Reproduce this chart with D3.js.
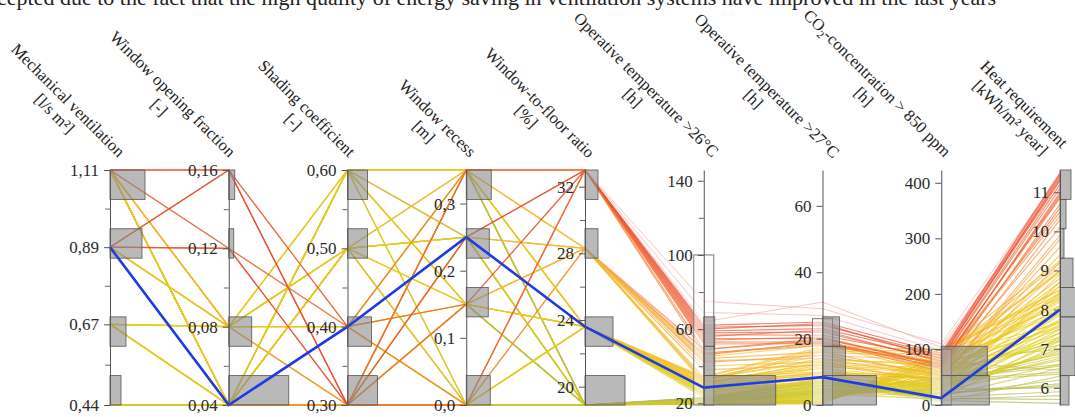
<!DOCTYPE html>
<html><head><meta charset="utf-8">
<script src="https://cdn.jsdelivr.net/npm/d3@7"></script>
<style>
body{margin:0;background:#fff;overflow:hidden;}
svg{display:block;}
svg text{font-family:"Liberation Serif","DejaVu Serif",serif !important;}
</style>
</head><body>
<svg id="chart" width="1075" height="417" font-family="Liberation Serif, DejaVu Serif, serif"></svg>
<script>
// ---------- axes ----------
const dims = ["mv","wof","sc","wr","wfr","op26","op27","co2","heat"];
const axisTitles = ["Mechanical ventilation","Window opening fraction","Shading coefficient","Window recess","Window-to-floor ratio","Operative temperature >26°C","Operative temperature >27°C","CO2-concentration > 850 ppm","Heat requirement"];
const axisUnits = ["[l/s m²]","[-]","[-]","[m]","[%]","[h]","[h]","[h]","[kWh/m² year]"];
const domainMv = [0.44, 1.11], domainWof = [0.04, 0.16], domainSc = [0.30, 0.60], domainWr = [0, 0.35],
      domainWfr = [18.9, 33.0], domainOp26 = [19.1, 145.8], domainOp27 = [0, 70.8], domainCo2 = [0, 423], domainHeat = [5.56, 11.57];
const ticksMv = [0.44,0.67,0.89,1.11], minorMv = [0.555,0.78,1.0];
const ticksWof = [0.04,0.08,0.12,0.16], minorWof = [0.06,0.10,0.14];
const ticksSc = [0.30,0.40,0.50,0.60], minorSc = [0.35,0.45,0.55];
const ticksWr = [0,0.1,0.2,0.3], minorWr = [];
const ticksWfr = [20,24,28,32], minorWfr = [22,26,30];
const ticksOp26 = [20,60,100,140], minorOp26 = [40,80,120];
const ticksOp27 = [0,20,40,60], minorOp27 = [];
const ticksCo2 = [0,100,200,300,400], minorCo2 = [];
const ticksHeat = [6,7,8,9,10,11], minorHeat = [];
// brushed (filter) ranges
const brushDims = ["op26","op27","co2"];
const brushRanges = [[19.1,100],[0,26],[0,100]];

// ---------- designs (filtered), drawing order; last one is the highlighted design ----------
const mechVent = [
 0.44,1.11,0.89,0.67,0.44,1.11,0.89,0.67,0.44,1.11, 0.89,0.67,0.44,1.11,0.89,0.67,0.44,1.11,0.89,0.67,
 0.44,1.11,0.89,0.67,0.44,1.11,0.89,0.67,0.44,1.11, 0.89,0.67,0.44,1.11,0.89,0.67,1.11,0.89,1.11,0.89,
 1.11,1.11,0.89,1.11,0.89,1.11,0.89,1.11,0.67,1.11,0.89,0.67,1.11,
 1.11,1.11,0.89,1.11,0.67,1.11,0.89,1.11,0.44,1.11, 0.89,0.67,1.11,0.89,1.11,0.89,0.67,1.11,0.44,0.89,
 1.11,0.67,0.89,1.11,0.89,1.11,0.67,
 1.11,1.11,1.11,0.89,0.89,0.89,1.11,1.11,0.89,0.89,0.89,0.89,0.89,
 0.89];
const windowOpening = [
 0.04,0.08,0.04,0.04,0.04,0.04,0.08,0.08,0.04,0.04, 0.04,0.04,0.04,0.08,0.04,0.04,0.04,0.04,0.08,0.04,
 0.04,0.04,0.04,0.08,0.04,0.08,0.04,0.04,0.04,0.04, 0.08,0.04,0.04,0.04,0.04,0.08,0.04,0.04,0.04,0.04,
 0.08,0.04,0.08,0.04,0.04,0.08,0.04,0.04,0.04,0.04,0.08,0.08,0.04,
 0.08,0.04,0.08,0.04,0.08,0.08,0.04,0.08,0.04,0.04, 0.04,0.04,0.08,0.08,0.04,0.04,0.08,0.04,0.04,0.04,
 0.04,0.04,0.04,0.04,0.08,0.04,0.04,
 0.16,0.16,0.16,0.16,0.16,0.16,0.12,0.12,0.12,0.12,0.12,0.04,0.04,
 0.04];
const shading = [
 0.60,0.50,0.40,0.60,0.50,0.30,0.60,0.40,0.40,0.60, 0.50,0.30,0.60,0.40,0.50,0.60,0.30,0.50,0.30,0.50,
 0.50,0.60,0.40,0.60,0.40,0.50,0.60,0.40,0.60,0.40, 0.50,0.30,0.30,0.30,0.60,0.50,0.30,0.40,0.50,0.40,
 0.30,0.30,0.30,0.30,0.40,0.30,0.30,0.40,0.30,0.50,0.30,0.40,0.30,
 0.60,0.50,0.60,0.60,0.50,0.40,0.50,0.40,0.60,0.30, 0.60,0.50,0.50,0.40,0.60,0.30,0.60,0.50,0.40,0.50,
 0.30,0.60,0.40,0.40,0.50,0.60,0.30,
 0.30,0.40,0.30,0.30,0.40,0.30,0.40,0.30,0.30,0.40,0.30,0.30,0.30,
 0.40];
const recess = [
 0.35,0.15,0,0.25,0.15,0.35,0.25,0,0.25,0, 0.35,0.15,0,0.35,0.25,0.15,0.35,0.25,0.15,0,
 0.25,0.15,0.35,0.35,0.15,0,0.15,0.25,0.25,0.25, 0,0.35,0,0.15,0.35,0,0,0.25,0.35,0.35,
 0.35,0.25,0.15,0,0.15,0.25,0.35,0,0.15,0.25,0,0.35,0.15,
 0.35,0.15,0,0.25,0.35,0.15,0,0.25,0.15,0.35, 0.35,0.25,0,0.15,0,0.25,0.15,0.35,0,0.15,
 0.25,0.35,0,0.35,0.25,0.15,0,
 0.35,0,0.25,0,0.15,0.35,0.25,0,0.15,0.35,0.25,0,0.35,
 0.25];
const windowFloor = [
 18.9,18.9,18.9,18.9,18.9,18.9,18.9,18.9,18.9,18.9, 18.9,18.9,18.9,18.9,18.9,18.9,18.9,18.9,18.9,18.9,
 18.9,18.9,18.9,18.9,18.9,18.9,18.9,18.9,18.9,18.9, 18.9,18.9,18.9,18.9,18.9,18.9,18.9,18.9,18.9,18.9,
 28.3,28.3,28.3,28.3,28.3,28.3,28.3,28.3,28.3,28.3,28.3,28.3,28.3,
 23.6,23.6,23.6,23.6,23.6,23.6,23.6,23.6,23.6,23.6, 23.6,23.6,23.6,23.6,23.6,23.6,23.6,23.6,23.6,23.6,
 23.6,23.6,23.6,23.6,23.6,23.6,23.6,
 33.0,33.0,33.0,33.0,33.0,33.0,33.0,33.0,33.0,33.0,33.0,33.0,33.0,
 23.6];
const opTemp26 = [
 21,20.2,22.5,19.8,21.5,20.5,22,19.5,21.2,20.8, 23,20,21.8,19.6,22.2,20.4,21.4,19.9,22.8,20.6,
 21.6,20.1,22.4,19.7,21.1,20.9,23.2,20.3,21.9,19.4, 22.1,20.7,21.3,19.8,22.6,20.2,21.7,20,22.9,21,
 46,42,38,49,44,40,34,47,43,33,32,31,45,
 33,30,26,32,29,31,27,34,25,30.5, 28,26.5,33.5,29.5,24,31.5,27.5,32.5,23,30, 34.5,25.5,28,31,26,33,24.5,
 58,55,61,53,57,62,52,56,59,54,60,49,47,
 28.5];
const opTemp27 = [
 3,1.5,5,0.8,4,2,6,0.5,3.5,2.5, 7.5,1,4.5,0.6,5.5,2.2,3.8,1.2,7,2.8,
 4.2,1.4,6.5,0.7,3.2,2.6,8,1.8,4.8,0.4, 5.8,2.4,3.6,1.1,6.8,1.6,4.4,0.9,7.2,3.3,
 19,15,12,20,16,13,10,18.5,14,11,9.5,9,18,
 14,11,7,16,9.5,12,6,17,5,13, 8,7.5,15,10,4,12.5,6.5,16.5,3.5,8.5, 17.5,5.5,7,11.5,6,13.5,4.5,
 22,20,24,19,21,25,18.5,22.5,23,20.5,24.5,19.5,18,
 8.4];
const co2Hours = [
 30,60,15,75,40,55,20,90,35,65, 10,80,25,100,45,58,28,70,12,62,
 38,85,18,95,32,50,8,72,42,88, 22,44,36,78,14,46,48,82,5,50,
 60,55,45,75,52,40,35,65,50,30,48,28,58,
 70,45,30,85,55,60,25,95,20,65, 40,35,80,50,15,62,38,90,10,48, 100,22,33,58,28,75,18,
 80,72,90,68,85,93,75,78,88,70,83,66,74,
 12.5];
const heatReq = [
 7.0,7.5,6.5,8.0,6.8,7.3,6.1,8.3,6.9,7.6, 5.8,7.9,6.6,8.4,6.4,7.2,6.0,7.7,5.7,7.1,
 6.7,8.1,6.2,8.5,6.95,7.4,5.6,7.55,6.35,7.65, 6.05,7.25,6.75,6.45,5.9,6.55,6.85,6.98,6.3,6.6,
 10.7,10.3,9.8,10.5,9.6,9.2,8.9,10.1,9.4,8.7,9.9,8.6,9.0,
 9.1,8.4,7.6,9.2,8.2,8.6,7.4,9.25,7.2,8.8, 8.1,7.9,9.0,8.3,7.1,8.7,7.85,8.95,7.3,8.45, 8.5,7.5,7.7,8.25,7.75,8.35,8.05,
 11.2,10.9,11.45,11.0,11.3,11.5,10.85,11.1,11.35,10.95,11.4,10.6,10.4,
 8.0];

// designs outside the brushed ranges (faded)
const fadedMv = [1.11,0.89,1.11], fadedWof = [0.16,0.16,0.12], fadedSc = [0.30,0.40,0.30],
      fadedWr = [0.35,0.25,0], fadedWfr = [33.0,33.0,33.0], fadedOp26 = [69,75,64],
      fadedOp27 = [27,29,31], fadedCo2 = [98,110,104], fadedHeat = [11.3,11.45,11.2];

const bodyText = "cepted due to the fact that the high quality of energy saving in ventilation systems have improved in the last years";

// ---------- build ----------
const FONT = "'Liberation Serif','DejaVu Serif',serif";
const cols = {mv:mechVent, wof:windowOpening, sc:shading, wr:recess, wfr:windowFloor, op26:opTemp26, op27:opTemp27, co2:co2Hours, heat:heatReq};
const fcols = {mv:fadedMv, wof:fadedWof, sc:fadedSc, wr:fadedWr, wfr:fadedWfr, op26:fadedOp26, op27:fadedOp27, co2:fadedCo2, heat:fadedHeat};
const domains = {mv:domainMv, wof:domainWof, sc:domainSc, wr:domainWr, wfr:domainWfr, op26:domainOp26, op27:domainOp27, co2:domainCo2, heat:domainHeat};
const majors = {mv:ticksMv, wof:ticksWof, sc:ticksSc, wr:ticksWr, wfr:ticksWfr, op26:ticksOp26, op27:ticksOp27, co2:ticksCo2, heat:ticksHeat};
const minors = {mv:minorMv, wof:minorWof, sc:minorSc, wr:minorWr, wfr:minorWfr, op26:minorOp26, op27:minorOp27, co2:minorCo2, heat:minorHeat};
const loc = d3.formatLocale({decimal:",", thousands:".", grouping:[3], currency:["",""]});
const fmts = {mv:loc.format(".2f"), wof:loc.format(".2f"), sc:loc.format(".2f"), wr:loc.format(".1f"), wfr:loc.format("d"), op26:loc.format("d"), op27:loc.format("d"), co2:loc.format("d"), heat:loc.format("d")};

const N = mechVent.length;
const designs = d3.range(N).map(i => Object.fromEntries(dims.map(d => [d, cols[d][i]])));
const faded = d3.range(fadedMv.length).map(i => Object.fromEntries(dims.map(d => [d, fcols[d][i]])));

const svg = d3.select("#chart");
const x = d3.scalePoint().domain(dims).range([110, 1060]);
const y = {};
dims.forEach(d => y[d] = d3.scaleLinear().domain(domains[d]).range([405, 170]));

const color = d3.scaleLinear()
  .domain([5.6, 6.6, 7.5, 8.4, 9.3, 10.0, 10.7, 11.5])
  .range(["#aab85e","#c6c63e","#e2d016","#f0c81c","#f5b52e","#f59a36","#f27234","#ea4a2c"]);

const line = d3.line().x(d => x(d[0])).y(d => y[d[0]](d[1]));
const pathOf = r => line(dims.map(d => [d, r[d]]));

// top body text (cut off by the picture edge, as in the source)
svg.append("text").attr("x", -3).attr("y", 5).attr("font-size", 22).attr("fill", "#222")
  .style("font-family", FONT).text(bodyText);

// faded lines
svg.append("g").selectAll("path").data(faded).join("path")
  .attr("d", pathOf).attr("fill","none").attr("stroke","#f2a29a").attr("stroke-width",1).attr("stroke-opacity",0.6);

// lines
const normal = designs.slice(0, N-1);
svg.append("g").selectAll("path").data(normal).join("path")
  .attr("d", pathOf).attr("fill","none")
  .attr("stroke", r => color(r.heat)).attr("stroke-width",1.15).attr("stroke-opacity",0.68);

// brushes
svg.append("g").selectAll("rect").data(brushDims).join("rect")
  .attr("x", d => x(d) - 10).attr("width", 20)
  .attr("y", (d,i) => y[d](brushRanges[i][1]))
  .attr("height", (d,i) => y[d](brushRanges[i][0]) - y[d](brushRanges[i][1]))
  .attr("fill","#fff").attr("fill-opacity",0.5).attr("stroke","#777").attr("stroke-width",1);

// histograms
const hist = svg.append("g");
dims.forEach(d => {
  const [d0, d1] = domains[d];
  const th = d3.range(1, 8).map(k => d0 + k * (d1 - d0) / 8);
  const bins = d3.bin().domain([d0, d1]).thresholds(th)(cols[d]);
  hist.selectAll(null).data(bins.filter(b => b.length > 0)).join("rect")
    .attr("x", x(d)).attr("width", b => b.length * 1.0)
    .attr("y", b => y[d](b.x1)).attr("height", b => y[d](b.x0) - y[d](b.x1))
    .attr("fill","#8a8a8a").attr("fill-opacity",0.6).attr("stroke","#555").attr("stroke-width",0.8);
});

// highlighted design
svg.append("path").attr("d", pathOf(designs[N-1])).attr("fill","none")
  .attr("stroke","#1f3be6").attr("stroke-width",2.6);

// axes
dims.forEach(d => {
  const g = svg.append("g").attr("transform", `translate(${x(d)},0)`);
  g.call(d3.axisLeft(y[d]).tickValues(majors[d]).tickFormat(fmts[d]).tickSize(6).tickSizeOuter(0).tickPadding(5));
  g.attr("font-family", null);
  if (minors[d].length) {
    const gm = svg.append("g").attr("transform", `translate(${x(d)},0)`);
    gm.call(d3.axisLeft(y[d]).tickValues(minors[d]).tickFormat("").tickSize(5).tickSizeOuter(0));
    gm.select(".domain").remove();
    gm.selectAll("line").attr("stroke","#666");
  }
  g.select(".domain").attr("stroke","#555");
  g.selectAll(".tick line").attr("stroke","#555");
  g.selectAll(".tick text").attr("font-size",17).attr("fill","#2a2a2a").style("font-family", FONT);
});

// titles
const titleDx = [8,0,1,3,3,8,10,3,1];
const titleY = [158,158,158,158,159,158,159,158,149];
dims.forEach((d, i) => {
  const g = svg.append("g").attr("transform", `translate(${x(d) + titleDx[i]},${titleY[i]}) rotate(45)`);
  const t = g.append("text").attr("text-anchor","end").attr("font-size",16.6).attr("fill","#222").style("font-family", FONT);
  if (d === "co2") {
    t.append("tspan").text("CO");
    t.append("tspan").attr("font-size",11).attr("dy",4).text("2");
    t.append("tspan").attr("dy",-4).text("-concentration > 850 ppm");
  } else {
    t.text(axisTitles[i]);
  }
  const L = t.node().getComputedTextLength();
  g.append("text").attr("text-anchor","middle").attr("x", -L/2).attr("y", 19)
    .attr("font-size",16.6).attr("fill","#222").style("font-family", FONT).text(axisUnits[i]);
});
</script>
</body></html>
